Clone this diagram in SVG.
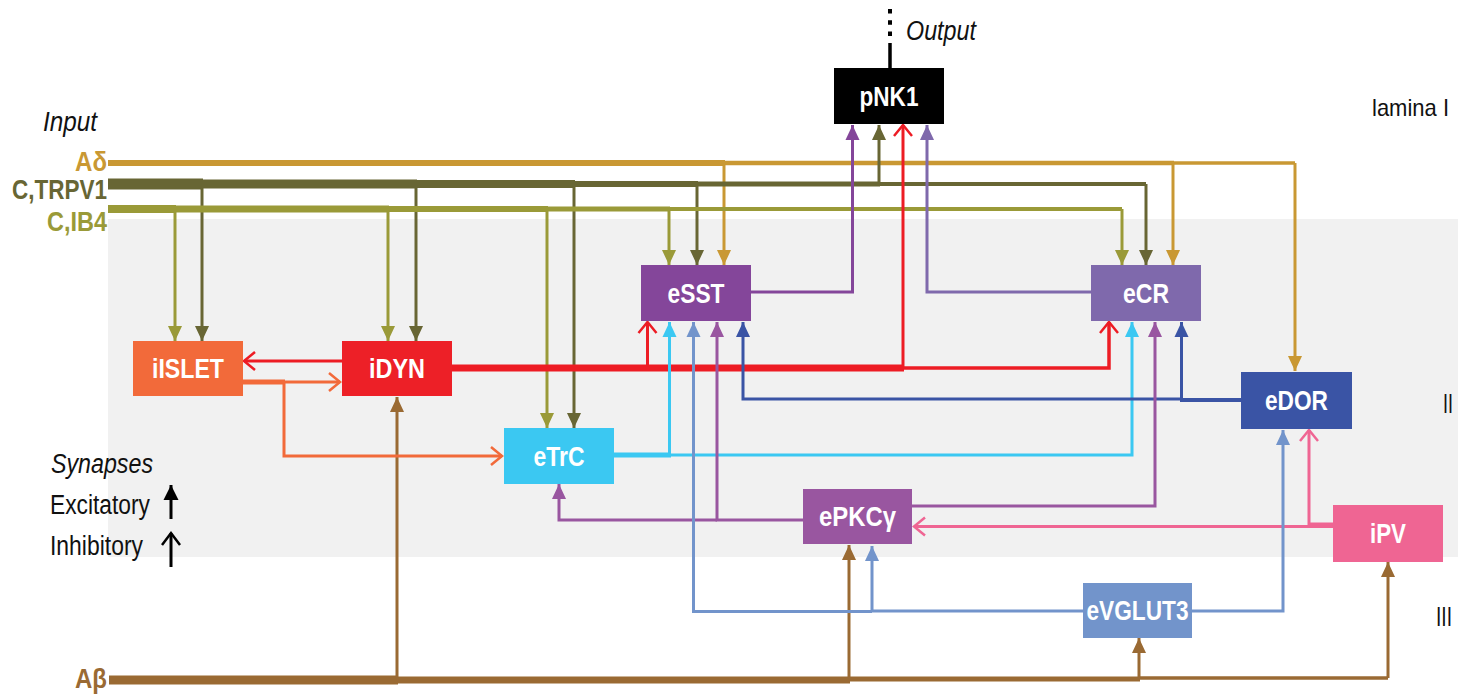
<svg xmlns="http://www.w3.org/2000/svg" width="1458" height="695" viewBox="0 0 1458 695">
<style>
  text{font-family:"Liberation Sans",Arial,sans-serif;}
  .node text{font-weight:bold;font-size:28px;fill:#ffffff;text-anchor:middle;}
  .in{font-weight:bold;font-size:28px;text-anchor:end;}
  .lab{font-size:27px;fill:#111111;}
  .it{font-style:italic;}
  #connectors path{fill:none;stroke-linejoin:miter;stroke-width:3;}
  .ad{stroke:#C99833;} .trp{stroke:#686634;} .ib4{stroke:#9A9A38;} .ab{stroke:#9A6A33;}
  .sst{stroke:#84469A;} .cr{stroke:#7F69AC;} .red{stroke:#ED1C24;} .or{stroke:#F26A3A;}
  .trc{stroke:#3BC8F2;} .dor{stroke:#3A54A5;} .pkc{stroke:#9956A0;} .pink{stroke:#EF6593;}
  .vg{stroke:#7294CB;} .blk{stroke:#000000;}
</style>
<defs>
  <marker id="a-ad" markerUnits="userSpaceOnUse" markerWidth="16" markerHeight="16" refX="15" refY="7" orient="auto" overflow="visible"><path d="M0,0 L15,7 L0,14 z" fill="#C99833"/></marker>
  <marker id="a-trp" markerUnits="userSpaceOnUse" markerWidth="16" markerHeight="16" refX="15" refY="7" orient="auto" overflow="visible"><path d="M0,0 L15,7 L0,14 z" fill="#686634"/></marker>
  <marker id="a-ib4" markerUnits="userSpaceOnUse" markerWidth="16" markerHeight="16" refX="15" refY="7" orient="auto" overflow="visible"><path d="M0,0 L15,7 L0,14 z" fill="#9A9A38"/></marker>
  <marker id="a-ab" markerUnits="userSpaceOnUse" markerWidth="16" markerHeight="16" refX="15" refY="7" orient="auto" overflow="visible"><path d="M0,0 L15,7 L0,14 z" fill="#9A6A33"/></marker>
  <marker id="a-sst" markerUnits="userSpaceOnUse" markerWidth="16" markerHeight="16" refX="15" refY="7" orient="auto" overflow="visible"><path d="M0,0 L15,7 L0,14 z" fill="#84469A"/></marker>
  <marker id="a-cr" markerUnits="userSpaceOnUse" markerWidth="16" markerHeight="16" refX="15" refY="7" orient="auto" overflow="visible"><path d="M0,0 L15,7 L0,14 z" fill="#7F69AC"/></marker>
  <marker id="a-trc" markerUnits="userSpaceOnUse" markerWidth="16" markerHeight="16" refX="15" refY="7" orient="auto" overflow="visible"><path d="M0,0 L15,7 L0,14 z" fill="#3BC8F2"/></marker>
  <marker id="a-dor" markerUnits="userSpaceOnUse" markerWidth="16" markerHeight="16" refX="15" refY="7" orient="auto" overflow="visible"><path d="M0,0 L15,7 L0,14 z" fill="#3A54A5"/></marker>
  <marker id="a-pkc" markerUnits="userSpaceOnUse" markerWidth="16" markerHeight="16" refX="15" refY="7" orient="auto" overflow="visible"><path d="M0,0 L15,7 L0,14 z" fill="#9956A0"/></marker>
  <marker id="a-vg" markerUnits="userSpaceOnUse" markerWidth="16" markerHeight="16" refX="15" refY="7" orient="auto" overflow="visible"><path d="M0,0 L15,7 L0,14 z" fill="#7294CB"/></marker>
  <marker id="a-blk" markerUnits="userSpaceOnUse" markerWidth="16" markerHeight="16" refX="15" refY="7.5" orient="auto" overflow="visible"><path d="M0,0 L15,7.5 L0,15 z" fill="#000000"/></marker>
  <marker id="o-red" markerUnits="userSpaceOnUse" markerWidth="20" markerHeight="20" refX="11" refY="9" orient="auto" overflow="visible"><path d="M0,0 L11,9 L0,18" fill="none" stroke="#ED1C24" stroke-width="2.5"/></marker>
  <marker id="o-or" markerUnits="userSpaceOnUse" markerWidth="20" markerHeight="20" refX="11" refY="9" orient="auto" overflow="visible"><path d="M0,0 L11,9 L0,18" fill="none" stroke="#F26A3A" stroke-width="2.5"/></marker>
  <marker id="o-pink" markerUnits="userSpaceOnUse" markerWidth="20" markerHeight="20" refX="11" refY="9" orient="auto" overflow="visible"><path d="M0,0 L11,9 L0,18" fill="none" stroke="#EF6593" stroke-width="2.5"/></marker>
  <marker id="o-blk" markerUnits="userSpaceOnUse" markerWidth="20" markerHeight="20" refX="12" refY="9" orient="auto" overflow="visible"><path d="M0,0 L12,9 L0,18" fill="none" stroke="#000000" stroke-width="2.5"/></marker>
</defs>

<rect id="lamina-II-band" x="108" y="219" width="1350" height="338" fill="#F1F1F1"/>

<g id="labels">
  <text class="lab" x="1372" y="116" style="font-size:24px" textLength="77" lengthAdjust="spacingAndGlyphs">lamina I</text>
  <text class="lab" x="1443" y="413" textLength="10" lengthAdjust="spacingAndGlyphs">II</text>
  <text class="lab" x="1436" y="626" textLength="16" lengthAdjust="spacingAndGlyphs">III</text>
  <text class="lab it" x="43" y="131" textLength="54" lengthAdjust="spacingAndGlyphs">Input</text>
  <text class="lab it" x="906" y="40" textLength="70" lengthAdjust="spacingAndGlyphs">Output</text>
  <text class="in" x="107" y="171" fill="#C99833" textLength="32" lengthAdjust="spacingAndGlyphs">Aδ</text>
  <text class="in" x="107" y="199" fill="#686634" textLength="95" lengthAdjust="spacingAndGlyphs">C,TRPV1</text>
  <text class="in" x="107" y="231" fill="#9A9A38" textLength="60" lengthAdjust="spacingAndGlyphs">C,IB4</text>
  <text class="in" x="107" y="688" fill="#9A6A33" textLength="32" lengthAdjust="spacingAndGlyphs">Aβ</text>
  <text class="lab it" x="51" y="473" textLength="102" lengthAdjust="spacingAndGlyphs">Synapses</text>
  <text class="lab" x="50" y="514" textLength="100" lengthAdjust="spacingAndGlyphs">Excitatory</text>
  <text class="lab" x="50" y="555" textLength="93" lengthAdjust="spacingAndGlyphs">Inhibitory</text>
</g>

<g id="connectors">
  <!-- legend arrows -->
  <path class="blk" d="M171,519 V485" marker-end="url(#a-blk)"/>
  <path class="blk" d="M171,567 V533" marker-end="url(#o-blk)"/>
  <!-- output -->
  <path class="blk" d="M890,68 V43" style="stroke-width:3.5"/>
  <path class="blk" d="M890,9 V37" style="stroke-width:4;stroke-dasharray:4.5 6.8"/>

  <!-- Adelta -->
  <path class="ad" d="M108,163 H725" style="stroke-width:6"/>
  <path class="ad" d="M724,163 H1174" style="stroke-width:4.5"/>
  <path class="ad" d="M1173,163 H1295" style="stroke-width:3.5"/>
  <path class="ad" d="M724,163 V265" marker-end="url(#a-ad)"/>
  <path class="ad" d="M1173,163 V265" marker-end="url(#a-ad)"/>
  <path class="ad" d="M1295,163 V371" marker-end="url(#a-ad)"/>

  <!-- C,TRPV1 -->
  <path class="trp" d="M108,184 H203" style="stroke-width:11"/>
  <path class="trp" d="M202,184 H417" style="stroke-width:9"/>
  <path class="trp" d="M416,184 H575" style="stroke-width:8"/>
  <path class="trp" d="M574,184 H698" style="stroke-width:6"/>
  <path class="trp" d="M697,184 H880" style="stroke-width:5"/>
  <path class="trp" d="M879,184 H1146" style="stroke-width:4"/>
  <path class="trp" d="M202,184 V341" marker-end="url(#a-trp)"/>
  <path class="trp" d="M416,184 V341" marker-end="url(#a-trp)"/>
  <path class="trp" d="M574,184 V428" marker-end="url(#a-trp)"/>
  <path class="trp" d="M697,184 V265" marker-end="url(#a-trp)"/>
  <path class="trp" d="M879,184 V125" marker-end="url(#a-trp)"/>
  <path class="trp" d="M1146,184 V265" marker-end="url(#a-trp)"/>

  <!-- C,IB4 -->
  <path class="ib4" d="M108,209 H176" style="stroke-width:8"/>
  <path class="ib4" d="M175,209 H389" style="stroke-width:7"/>
  <path class="ib4" d="M388,209 H548" style="stroke-width:6"/>
  <path class="ib4" d="M547,209 H670" style="stroke-width:5"/>
  <path class="ib4" d="M669,209 H1122" style="stroke-width:4"/>
  <path class="ib4" d="M175,209 V341" marker-end="url(#a-ib4)"/>
  <path class="ib4" d="M388,209 V341" marker-end="url(#a-ib4)"/>
  <path class="ib4" d="M547,209 V428" marker-end="url(#a-ib4)"/>
  <path class="ib4" d="M669,209 V265" marker-end="url(#a-ib4)"/>
  <path class="ib4" d="M1122,209 V265" marker-end="url(#a-ib4)"/>

  <!-- Abeta -->
  <path class="ab" d="M109,680 H398" style="stroke-width:9"/>
  <path class="ab" d="M397,680 H850" style="stroke-width:7"/>
  <path class="ab" d="M849,679 H1140" style="stroke-width:5"/>
  <path class="ab" d="M1139,678 H1388" style="stroke-width:3.5"/>
  <path class="ab" d="M397,680 V397" marker-end="url(#a-ab)"/>
  <path class="ab" d="M849,679 V545" marker-end="url(#a-ab)"/>
  <path class="ab" d="M1139,678 V638" marker-end="url(#a-ab)"/>
  <path class="ab" d="M1388,678 V562" marker-end="url(#a-ab)"/>

  <!-- to pNK1 -->
  <path class="sst" d="M751,292 H852.5 V125" marker-end="url(#a-sst)"/>
  <path class="cr" d="M1091,292 H927 V125" marker-end="url(#a-cr)"/>

  <!-- iDYN outputs -->
  <path class="red" d="M452,368 H904" style="stroke-width:7"/>
  <path class="red" d="M903,368 V125" marker-end="url(#o-red)"/>
  <path class="red" d="M647.5,368 V322" marker-end="url(#o-red)"/>
  <path class="red" d="M903,368 H1109 V322" style="stroke-width:3.5" marker-end="url(#o-red)"/>
  <path class="red" d="M342,361 H244" marker-end="url(#o-red)"/>

  <!-- iISLET outputs -->
  <path class="or" d="M243,382 H285" style="stroke-width:5"/>
  <path class="or" d="M284,382 H340" marker-end="url(#o-or)"/>
  <path class="or" d="M284,382 V456 H502" marker-end="url(#o-or)"/>

  <!-- eTrC outputs -->
  <path class="trc" d="M613,455 H671" style="stroke-width:5"/>
  <path class="trc" d="M669.5,455 V322" marker-end="url(#a-trc)"/>
  <path class="trc" d="M669.5,455 H1132 V322" marker-end="url(#a-trc)"/>

  <!-- eDOR outputs -->
  <path class="dor" d="M1241,400 H1180" style="stroke-width:4"/>
  <path class="dor" d="M1181.5,400 V322" marker-end="url(#a-dor)"/>
  <path class="dor" d="M1181,399 H743 V322" marker-end="url(#a-dor)"/>

  <!-- ePKCgamma outputs -->
  <path class="pkc" d="M912,506 H1155 V322" marker-end="url(#a-pkc)"/>
  <path class="pkc" d="M803,520 H717 V322" marker-end="url(#a-pkc)"/>
  <path class="pkc" d="M717,520 H559 V484" marker-end="url(#a-pkc)"/>

  <!-- iPV outputs -->
  <path class="pink" d="M1333,526.5 H914" marker-end="url(#o-pink)"/>
  <path class="pink" d="M1333,524 H1309 V430" marker-end="url(#o-pink)"/>

  <!-- eVGLUT3 outputs -->
  <path class="vg" d="M1192,611 H1283 V430" marker-end="url(#a-vg)"/>
  <path class="vg" d="M1083,611 H872 V546" marker-end="url(#a-vg)"/>
  <path class="vg" d="M872,611.5 H693.5 V322" marker-end="url(#a-vg)"/>
</g>

<g id="pNK1" class="node"><rect x="834" y="68" width="110" height="56" fill="#000000"/><text x="889" y="106" textLength="59" lengthAdjust="spacingAndGlyphs">pNK1</text></g>
<g id="eSST" class="node"><rect x="641" y="265" width="110" height="56" fill="#84469A"/><text x="696" y="303" textLength="57" lengthAdjust="spacingAndGlyphs">eSST</text></g>
<g id="eCR" class="node"><rect x="1091" y="265" width="110" height="56" fill="#7F69AC"/><text x="1146" y="303" textLength="46" lengthAdjust="spacingAndGlyphs">eCR</text></g>
<g id="iISLET" class="node"><rect x="133" y="341" width="110" height="55" fill="#F26A3A"/><text x="188" y="378" textLength="72" lengthAdjust="spacingAndGlyphs">iISLET</text></g>
<g id="iDYN" class="node"><rect x="342" y="341" width="110" height="55" fill="#ED2027"/><text x="397" y="378" textLength="56" lengthAdjust="spacingAndGlyphs">iDYN</text></g>
<g id="eTrC" class="node"><rect x="504" y="428" width="110" height="56" fill="#3BC8F2"/><text x="559" y="466" textLength="51" lengthAdjust="spacingAndGlyphs">eTrC</text></g>
<g id="eDOR" class="node"><rect x="1241" y="372" width="111" height="57" fill="#3A54A5"/><text x="1296.5" y="410" textLength="63" lengthAdjust="spacingAndGlyphs">eDOR</text></g>
<g id="ePKCgamma" class="node"><rect x="803" y="489" width="109" height="55" fill="#9956A0"/><text x="857.5" y="526" textLength="77" lengthAdjust="spacingAndGlyphs">ePKCγ</text></g>
<g id="iPV" class="node"><rect x="1333" y="505" width="110" height="57" fill="#EF6593"/><text x="1388" y="543" textLength="36" lengthAdjust="spacingAndGlyphs">iPV</text></g>
<g id="eVGLUT3" class="node"><rect x="1083" y="583" width="109" height="55" fill="#7294CB"/><text x="1137.5" y="620" textLength="102" lengthAdjust="spacingAndGlyphs">eVGLUT3</text></g>
</svg>
